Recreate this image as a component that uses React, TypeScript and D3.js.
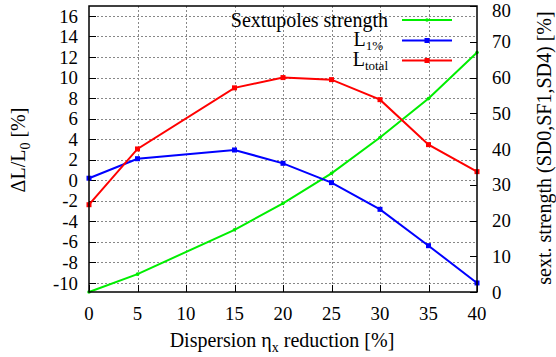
import React from "react";
import * as d3 from "d3";

const xValues = [0, 5, 15, 20, 25, 30, 35, 40];
const sextStrength = [0, 5.0, 17.4, 24.8, 33.2, 43.2, 54.1, 67.0];
const l1pct = [0.2, 2.1, 2.95, 1.65, -0.23, -2.83, -6.37, -10.0];
const ltotal = [-2.38, 3.05, 9.0, 10.0, 9.8, 7.85, 3.47, 0.84];

const xTicks = [0, 5, 10, 15, 20, 25, 30, 35, 40];
const yLeftTicks = [-10, -8, -6, -4, -2, 0, 2, 4, 6, 8, 10, 12, 14, 16];
const yRightTicks = [0, 10, 20, 30, 40, 50, 60, 70, 80];

const W = 556;
const H = 357;
const L = 89, R = 477, T = 6, B = 292;
const FONT = "'Liberation Serif', 'Times New Roman', serif";
const FS = 18.8;
const FT = 20;

export default function App() {
  const x = d3.scaleLinear().domain([0, 40]).range([L, R]);
  const yL = d3.scaleLinear().domain([-10.88, 16.97]).range([B, T]);
  const yR = d3.scaleLinear().domain([0, 80]).range([B, T]);

  const lineL = d3.line<number>().x((_, i) => x(xValues[i])).y((d) => yL(d));
  const lineR = d3.line<number>().x((_, i) => x(xValues[i])).y((d) => yR(d));

  const green = "#00ee00";
  const blue = "#0000ff";
  const red = "#ff0000";

  const legendRows = [
    { y: 20, color: green, kind: "dot" },
    { y: 40.5, color: blue, kind: "sq" },
    { y: 60.5, color: red, kind: "sq" },
  ];

  return (
    <svg
      width={W}
      height={H}
      style={{ position: "absolute", left: 0, top: 0, background: "#fff" }}
      fontFamily={FONT}
    >
      <rect x={0} y={0} width={W} height={H} fill="#fff" />
      {/* grid */}
      <g stroke="#888" strokeWidth={1} strokeDasharray="2,2" fill="none">
        {yLeftTicks.map((t) => (
          <line key={"gy" + t} x1={L} x2={R} y1={Math.round(yL(t)) + 0.5} y2={Math.round(yL(t)) + 0.5} />
        ))}
        {xTicks.slice(1, -1).map((t) => (
          <line key={"gx" + t} x1={Math.round(x(t)) + 0.5} x2={Math.round(x(t)) + 0.5} y1={T} y2={B} />
        ))}
      </g>
      {/* ticks */}
      <g stroke="#000" strokeWidth={1}>
        {yLeftTicks.map((t) => (
          <line key={"ty" + t} x1={L} x2={L + 7} y1={Math.round(yL(t)) + 0.5} y2={Math.round(yL(t)) + 0.5} />
        ))}
        {yRightTicks.map((t) => (
          <line key={"tr" + t} x1={R - 7} x2={R} y1={Math.round(yR(t)) + 0.5} y2={Math.round(yR(t)) + 0.5} />
        ))}
        {xTicks.map((t) => (
          <line key={"tx" + t} x1={Math.round(x(t)) + 0.5} x2={Math.round(x(t)) + 0.5} y1={B - 7} y2={B} />
        ))}
      </g>
      {/* tick labels */}
      <g fontSize={FS} fill="#000">
        {yLeftTicks.map((t) => (
          <text key={"ly" + t} x={78} y={yL(t)} dy="0.35em" textAnchor="end">
            {t}
          </text>
        ))}
        {yRightTicks.map((t) => (
          <text key={"lr" + t} x={492} y={Math.max(yR(t), 10)} dy="0.35em" textAnchor="start">
            {t}
          </text>
        ))}
        {xTicks.map((t) => (
          <text key={"lx" + t} x={x(t)} y={320} textAnchor="middle">
            {t}
          </text>
        ))}
      </g>
      {/* axis titles */}
      <text fontSize={FT} textAnchor="middle" x={282} y={347}>
        Dispersion η<tspan fontSize={14} dy={5}>x</tspan>
        <tspan dy={-5}> reduction [%]</tspan>
      </text>
      <text fontSize={FT} textAnchor="middle" transform={`translate(25,150) rotate(-90)`}>
        ΔL/L<tspan fontSize={14} dy={5}>0</tspan>
        <tspan dy={-5}> [%]</tspan>
      </text>
      <text fontSize={FT} textAnchor="middle" transform={`translate(551,148) rotate(-90)`}>
        sext. strength (SD0,SF1,SD4) [%]
      </text>
      {/* lines */}
      <path d={lineR(sextStrength) || ""} fill="none" stroke={green} strokeWidth={2} />
      <path d={lineL(l1pct) || ""} fill="none" stroke={blue} strokeWidth={2} />
      <path d={lineL(ltotal) || ""} fill="none" stroke={red} strokeWidth={2} />
      {sextStrength.map((v, i) => (
        <circle key={"pg" + i} cx={x(xValues[i])} cy={yR(v)} r={1.8} fill={green} />
      ))}
      {l1pct.map((v, i) => (
        <rect key={"pb" + i} x={x(xValues[i]) - 2.5} y={yL(v) - 2.5} width={5} height={5} fill={blue} />
      ))}
      {ltotal.map((v, i) => (
        <rect key={"pr" + i} x={x(xValues[i]) - 2.5} y={yL(v) - 2.5} width={5} height={5} fill={red} />
      ))}
      {/* legend */}
      <g fontSize={FT}>
        <text x={388} y={legendRows[0].y + 6.5} textAnchor="end">Sextupoles strength</text>
        <text x={383} y={legendRows[1].y + 5.5} textAnchor="end">
          L<tspan fontSize={13} dy={4}>1%</tspan>
        </text>
        <text x={388} y={legendRows[2].y + 5.5} textAnchor="end">
          L<tspan fontSize={13} dy={4}>total</tspan>
        </text>
        {legendRows.map((r, i) => (
          <g key={"lg" + i}>
            <line x1={402} x2={452} y1={r.y} y2={r.y} stroke={r.color} strokeWidth={2} />
            {r.kind === "dot" ? (
              <circle cx={427} cy={r.y} r={1.8} fill={r.color} />
            ) : (
              <rect x={424.5} y={r.y - 2.5} width={5} height={5} fill={r.color} />
            )}
          </g>
        ))}
      </g>
      {/* border */}
      <rect x={L} y={T} width={R - L} height={B - T} fill="none" stroke="#000" strokeWidth={1.5} />
    </svg>
  );
}
